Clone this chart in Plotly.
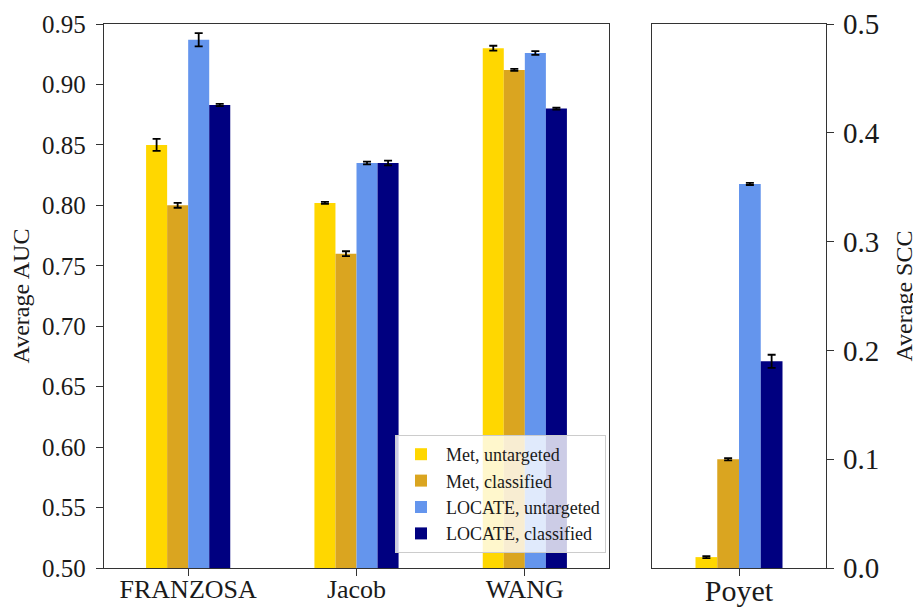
import plotly.graph_objects as go

# ---- data ----
datasets = ["FRANZOSA", "Jacob", "WANG"]
series_names = ["Met, untargeted", "Met, classified", "LOCATE, untargeted", "LOCATE, classified"]
colors = ["#FFD700", "#DAA520", "#6495ED", "#000080"]

auc_met_untargeted = [0.850, 0.802, 0.930]
auc_met_classified = [0.800, 0.760, 0.912]
auc_locate_untargeted = [0.937, 0.835, 0.926]
auc_locate_classified = [0.883, 0.835, 0.880]
auc_err_met_untargeted = [0.005, 0.0008, 0.002]
auc_err_met_classified = [0.002, 0.002, 0.0008]
auc_err_locate_untargeted = [0.0055, 0.0012, 0.0015]
auc_err_locate_classified = [0.001, 0.002, 0.0008]

poyet_label = ["Poyet"]
scc_values = [0.010, 0.100, 0.353, 0.190]
scc_errors = [0.001, 0.001, 0.001, 0.006]

auc_ticks = [0.50, 0.55, 0.60, 0.65, 0.70, 0.75, 0.80, 0.85, 0.90, 0.95]
scc_ticks = [0.0, 0.1, 0.2, 0.3, 0.4, 0.5]

auc_series = [auc_met_untargeted, auc_met_classified, auc_locate_untargeted, auc_locate_classified]
auc_errors = [auc_err_met_untargeted, auc_err_met_classified, auc_err_locate_untargeted, auc_err_locate_classified]

FONT = "Liberation Serif, Times New Roman, serif"
AXC = "#333333"
TXT = "#1a1a1a"

fig = go.Figure()
for name, col, vals, errs in zip(series_names, colors, auc_series, auc_errors):
    fig.add_trace(go.Bar(
        x=datasets, y=vals, name=name, marker=dict(color=col, line=dict(width=0)),
        error_y=dict(type="data", array=errs, color="black", thickness=1.8, width=4),
        xaxis="x", yaxis="y", legendgroup=name, showlegend=True,
    ))
for name, col, v, e in zip(series_names, colors, scc_values, scc_errors):
    fig.add_trace(go.Bar(
        x=poyet_label, y=[v], name=name, marker=dict(color=col, line=dict(width=0)),
        error_y=dict(type="data", array=[e], color="black", thickness=1.8, width=4),
        xaxis="x2", yaxis="y2", legendgroup=name, showlegend=False,
    ))

# page body has an 8px margin; figure is sized to fit the window
OFF = 8
W, H = 921 - OFF, 608 - OFF


def fx(p):
    return (p - OFF) / W


def fy(p):
    return (H - (p - OFF)) / H


ydom = [fy(568), fy(24)]

common = dict(showline=True, linecolor=AXC, linewidth=1.3, mirror=True,
              ticks="outside", ticklen=7, tickwidth=1.2, tickcolor=AXC,
              showgrid=False, automargin=False)

fig.update_layout(
    width=W, height=H,
    margin=dict(l=0, r=0, t=0, b=0),
    paper_bgcolor="white", plot_bgcolor="white",
    barmode="group", bargap=0.5, bargroupgap=0,
    font=dict(family=FONT, color=TXT),
    xaxis=dict(domain=[fx(104), fx(609)], anchor="y", range=[-0.5, 2.5],
               tickfont=dict(size=26, family=FONT, color=TXT), ticklabelstandoff=-9, **common),
    yaxis=dict(domain=ydom, anchor="x", range=[0.5, 0.95], tickvals=auc_ticks,
               ticktext=[f"{t:.2f}" for t in auc_ticks], zeroline=False,
               tickfont=dict(size=25, family=FONT, color=TXT), ticklabelstandoff=5,
               title=dict(text="Average AUC", font=dict(size=24, family=FONT, color=TXT), standoff=7),
               **common),
    xaxis2=dict(domain=[fx(652), fx(826)], anchor="y2", range=[-0.5, 0.5],
                tickfont=dict(size=30, family=FONT, color=TXT), ticklabelstandoff=-11, **common),
    yaxis2=dict(domain=ydom, anchor="x2", side="right", range=[0, 0.5], tickvals=scc_ticks,
                ticktext=[f"{t:.1f}" for t in scc_ticks], zeroline=False,
                tickfont=dict(size=29, family=FONT, color=TXT), ticklabelstandoff=3,
                title=dict(text="Average SCC", font=dict(size=24, family=FONT, color=TXT), standoff=16),
                **common),
    legend=dict(x=fx(606), y=fy(553), xanchor="right", yanchor="bottom",
                bgcolor="rgba(255,255,255,0.8)", bordercolor="#cccccc", borderwidth=1,
                font=dict(size=18, family=FONT, color=TXT), tracegroupgap=0,
                itemwidth=40),
)

fig.write_html("out.html")
